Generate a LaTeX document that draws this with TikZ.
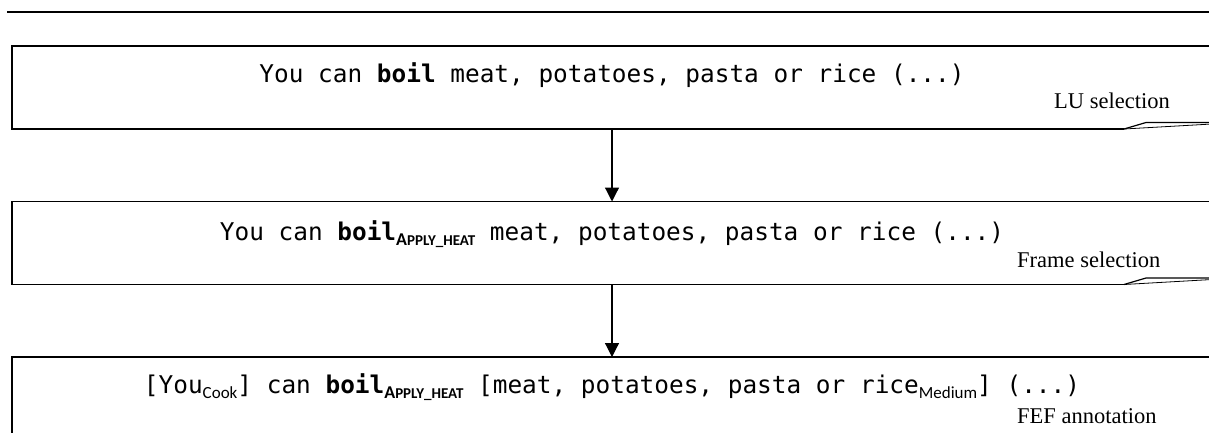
\documentclass[tikz,border=0pt]{standalone}
\usepackage{fontspec}
\setmainfont{Liberation Serif}
\setmonofont{DejaVu Sans Mono}
\newfontfamily\subfont{Carlito}
\usetikzlibrary{arrows.meta}

% frame-element subscript and frame subscript (small caps imitation)
\newcommand{\fesub}[1]{\raisebox{-5pt}{\fontsize{17}{17}\subfont #1}}
\newcommand{\framesub}{\raisebox{-5pt}{\fontsize{18}{18}\subfont\bfseries A\fontsize{15}{15}\selectfont PPLY\_HEAT}}

% outline of a step box with a curled lower-right corner
\newcommand{\curlbox}[1]{%
  \draw[boxline] ([xshift=-88pt]#1.south east) -- (#1.south west) -- (#1.north west)
     -- (#1.north east) -- ([yshift=6.5pt]#1.south east);
  \draw[boxline] ([xshift=-88pt]#1.south east) -- ([xshift=-66pt,yshift=6.5pt]#1.south east)
     -- ([yshift=6.5pt]#1.south east);
  \draw[boxline, line width=0.8pt] ([xshift=-88pt]#1.south east) -- ([yshift=5pt]#1.south east);
}

\begin{document}
\begin{tikzpicture}[x=1pt, y=-1pt,
  boxline/.style={line width=1.2pt, line join=miter},
  stepbox/.style={draw=none, minimum width=1200pt, minimum height=83pt, inner sep=0pt, outer sep=0pt},
  sent/.style={anchor=base, inner sep=0pt, font=\ttfamily\fontsize{24.4}{28}\selectfont},
  tag/.style={anchor=base west, inner sep=0pt, font=\fontsize{22.5}{24}\selectfont},
  flow/.style={line width=1.2pt, -{Triangle[width=14pt,length=14pt]}}]
\useasboundingbox (0,0) rectangle (1209,432);
\clip (0,0) rectangle (1209,432);

% rule above the figure
\draw[line width=1.5pt] (7,12) -- (1209,12);

% the three annotation steps
\node[stepbox] (b1) at (612,87.5) {};
\node[stepbox] (b2) at (612,243) {};
\node[stepbox, minimum height=95pt] (b3) at (612,404.5) {};
\curlbox{b1}
\curlbox{b2}
\curlbox{b3}

\node[sent] (t1) at (612,82) {You can \textbf{boil} meat, potatoes, pasta or rice (...)};
\node[sent] (t2) at (612,240) {You can \textbf{boil}\framesub{} meat, potatoes, pasta or rice (...)};
\node[sent] (t3) at (612,393) {[You\fesub{Cook}] can \textbf{boil}\framesub{} [meat, potatoes, pasta or rice\fesub{Medium}] (...)};

\node[tag] (l1) at (1054,108) {LU selection};
\node[tag] (l2) at (1017,267) {Frame selection};
\node[tag] (l3) at (1017,423) {FEF annotation};

% flow between steps
\draw[flow] (b1.south) -- (b2.north);
\draw[flow] (b2.south) -- (b3.north);
\end{tikzpicture}
\end{document}
